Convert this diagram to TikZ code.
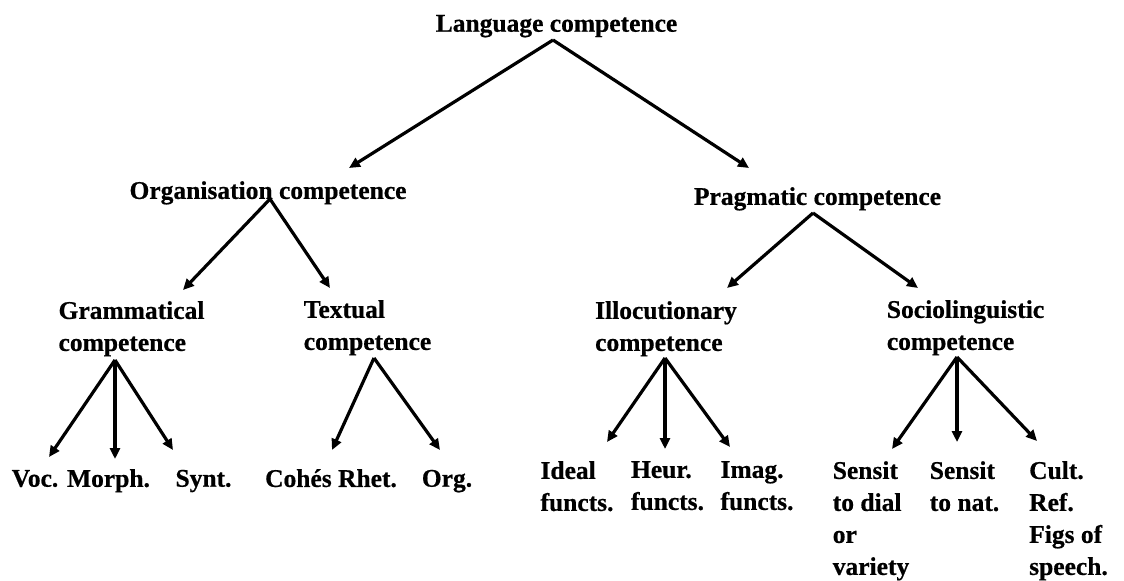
\documentclass[tikz,border=0pt]{standalone}
\usepackage{fontspec}
\setmainfont[BoldFeatures={FakeBold=0.6}]{Liberation Serif}
\usetikzlibrary{arrows.meta}

\begin{document}
\begin{tikzpicture}[
  x=1pt, y=-1pt,
  lbl/.style={font=\fontsize{25.5}{32}\selectfont\bfseries, inner sep=0pt,
              anchor=north, align=left,
              execute at begin node={\rule{0pt}{17.5pt}}},
  arr/.style={line width=3.2pt, line join=miter,
              -{Triangle[length=11pt,width=10pt]}}
]
% page
\fill[white] (0,0) rectangle (1124,579);

% level 0 and 1 (north anchor sits one point above the cap line)
\node[lbl] (lang)  at (556.5,14)  {Language competence};
\node[lbl] (org)   at (268,181)   {Organisation competence};
\node[lbl] (prag)  at (817.5,187) {Pragmatic competence};

% level 2
\node[lbl] (gram)  at (131.5,301) {Grammatical\\competence};
\node[lbl] (textc) at (367.5,300) {Textual\\competence};
\node[lbl] (illoc) at (666,301)   {Illocutionary\\competence};
\node[lbl] (socio) at (965.5,300) {Sociolinguistic\\competence};

% level 3
\node[lbl] (voc)   at (35,469)    {Voc.};
\node[lbl] (morph) at (108.5,469) {Morph.};
\node[lbl] (synt)  at (203.5,469) {Synt.};
\node[lbl] (cohes) at (331,469)   {Cohés Rhet.};
\node[lbl] (orgl)  at (447,469)   {Org.};
\node[lbl] (ideal) at (577,461)   {Ideal\\functs.};
\node[lbl] (heur)  at (667.5,461) {Heur.\\functs.};
\node[lbl] (imag)  at (757,461)   {Imag.\\functs.};
\node[lbl] (sensa) at (871,461)   {Sensit\\to dial\\or\\variety};
\node[lbl] (sensb) at (964.5,461) {Sensit\\to nat.};
\node[lbl] (cult)  at (1068.5,461) {Cult.\\Ref.\\Figs of\\speech.};

% branches
\draw[arr] ([shift={(-3.5,26)}]lang.north) -- ([shift={(81,-13)}]org.north);
\draw[arr] ([shift={(-3.5,26)}]lang.north) -- ([shift={(-68.5,-19)}]prag.north);

\draw[arr] ([shift={(2,18)}]org.north) -- ([shift={(51.5,-11)}]gram.north);
\draw[arr] ([shift={(2,18)}]org.north) -- ([shift={(-37.5,-12)}]textc.north);

\draw[arr] ([shift={(-4.5,26)}]prag.north) -- ([shift={(61,-13)}]illoc.north);
\draw[arr] ([shift={(-4.5,26)}]prag.north) -- ([shift={(-47.5,-12)}]socio.north);

\draw[arr] ([shift={(-16.5,59)}]gram.north) -- ([shift={(14,-12)}]voc.north);
\draw[arr] ([shift={(-16.5,59)}]gram.north) -- ([shift={(6.5,-10)}]morph.north);
\draw[arr] ([shift={(-16.5,59)}]gram.north) -- ([shift={(-30.5,-19)}]synt.north);

\draw[arr] ([shift={(6.5,58)}]textc.north) -- ([shift={(1,-19)}]cohes.north);
\draw[arr] ([shift={(6.5,58)}]textc.north) -- ([shift={(-7,-19)}]orgl.north);

\draw[arr] ([shift={(-1,57)}]illoc.north) -- ([shift={(30,-19)}]ideal.north);
\draw[arr] ([shift={(-1,57)}]illoc.north) -- ([shift={(-2.5,-12)}]heur.north);
\draw[arr] ([shift={(-1,57)}]illoc.north) -- ([shift={(-27,-14)}]imag.north);

\draw[arr] ([shift={(-8.5,57)}]socio.north) -- ([shift={(21,-12)}]sensa.north);
\draw[arr] ([shift={(-8.5,57)}]socio.north) -- ([shift={(-7.5,-19)}]sensb.north);
\draw[arr] ([shift={(-8.5,57)}]socio.north) -- ([shift={(-31.5,-20)}]cult.north);
\end{tikzpicture}
\end{document}
